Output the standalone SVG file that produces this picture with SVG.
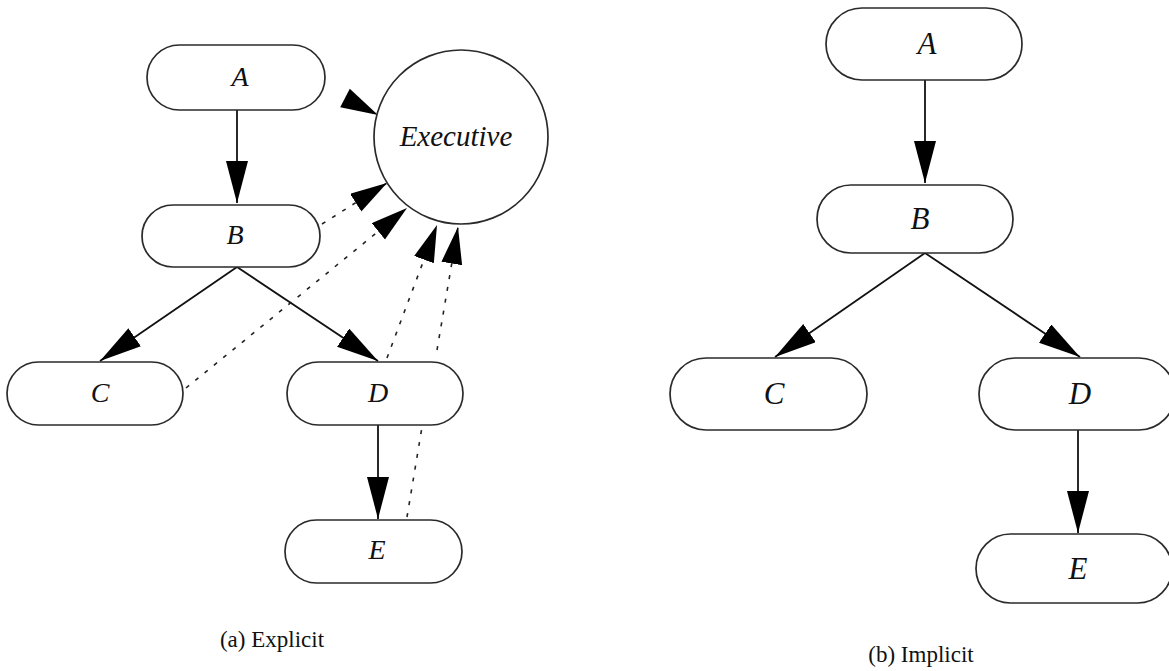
<svg xmlns="http://www.w3.org/2000/svg" width="1169" height="671" viewBox="0 0 1169 671">
<style>
.box{fill:#fff;stroke:#2a2a2a;stroke-width:1.7}
.lbl{font-family:"Liberation Serif",serif;font-style:italic;text-anchor:middle;fill:#111}
.cap{font-family:"Liberation Serif",serif;font-size:23px;text-anchor:middle;fill:#111}
.solid{stroke:#111;stroke-width:1.8;fill:none}
.dot{stroke:#222;stroke-width:1.6;fill:none;stroke-dasharray:4 8}
</style>
<defs>
<marker id="big" markerUnits="userSpaceOnUse" markerWidth="43" markerHeight="23" refX="42" refY="11" orient="auto" viewBox="0 0 43 23">
<path d="M0,0 L42,11 L0,22 Z" fill="#000"/>
</marker>
<marker id="small" markerUnits="userSpaceOnUse" markerWidth="38" markerHeight="22" refX="37" refY="10.5" orient="auto" viewBox="0 0 38 22">
<path d="M0,0 L37,10.5 L0,21 Z" fill="#000"/>
</marker>
</defs>
<rect width="1169" height="671" fill="#fff"/>

<g id="connectors">
<line class="solid" x1="237" y1="110" x2="237" y2="203" marker-end="url(#big)"/>
<line class="solid" x1="237" y1="267" x2="100" y2="361" marker-end="url(#big)"/>
<line class="solid" x1="237" y1="267" x2="378" y2="361" marker-end="url(#big)"/>
<line class="solid" x1="378" y1="425" x2="378" y2="519" marker-end="url(#big)"/>
<line class="dot" x1="322" y1="224" x2="387" y2="183" marker-end="url(#small)"/>
<line class="dot" x1="186" y1="388" x2="407" y2="208" marker-end="url(#small)"/>
<line class="dot" x1="387" y1="358" x2="437" y2="225" marker-end="url(#small)"/>
<line class="dot" x1="437" y1="350" x2="458" y2="227" marker-end="url(#small)"/>
<line class="dot" x1="407" y1="517" x2="422" y2="427"/>
<polygon points="340.2,107.3 378,115 349.8,88.7" fill="#000"/>
<line class="solid" x1="925" y1="80" x2="925" y2="183" marker-end="url(#big)"/>
<line class="solid" x1="925" y1="253" x2="775" y2="357" marker-end="url(#big)"/>
<line class="solid" x1="925" y1="253" x2="1080" y2="357" marker-end="url(#big)"/>
<line class="solid" x1="1078" y1="430" x2="1078" y2="533" marker-end="url(#big)"/>
</g>

<g id="a-A"><rect class="box" x="147" y="45" width="178" height="65" rx="32.5"/><text class="lbl" x="240" y="86" font-size="28">A</text></g>
<g id="a-B"><rect class="box" x="142" y="205" width="178" height="62" rx="31"/><text class="lbl" x="235" y="244" font-size="28">B</text></g>
<g id="a-C"><rect class="box" x="7" y="362" width="176" height="63" rx="31.5"/><text class="lbl" x="100" y="402" font-size="28">C</text></g>
<g id="a-D"><rect class="box" x="287" y="362" width="176" height="63" rx="31.5"/><text class="lbl" x="378" y="402" font-size="28">D</text></g>
<g id="a-E"><rect class="box" x="285" y="520" width="177" height="63" rx="31.5"/><text class="lbl" x="377" y="559" font-size="28">E</text></g>
<g id="a-Executive"><circle class="box" cx="461" cy="137" r="87"/><text class="lbl" x="456" y="146" font-size="29">Executive</text></g>

<g id="b-A"><rect class="box" x="826" y="8" width="196" height="72" rx="36"/><text class="lbl" x="927" y="54" font-size="31">A</text></g>
<g id="b-B"><rect class="box" x="817" y="185" width="196" height="68" rx="34"/><text class="lbl" x="920" y="229" font-size="31">B</text></g>
<g id="b-C"><rect class="box" x="670" y="358" width="197" height="72" rx="36"/><text class="lbl" x="774" y="404" font-size="31">C</text></g>
<g id="b-D"><rect class="box" x="979" y="358" width="196" height="72" rx="36"/><text class="lbl" x="1080" y="404" font-size="31">D</text></g>
<g id="b-E"><rect class="box" x="976" y="534" width="196" height="69" rx="34.5"/><text class="lbl" x="1078" y="579" font-size="31">E</text></g>

<text class="cap" x="272" y="647">(a) Explicit</text>
<text class="cap" x="921" y="662">(b) Implicit</text>
</svg>
